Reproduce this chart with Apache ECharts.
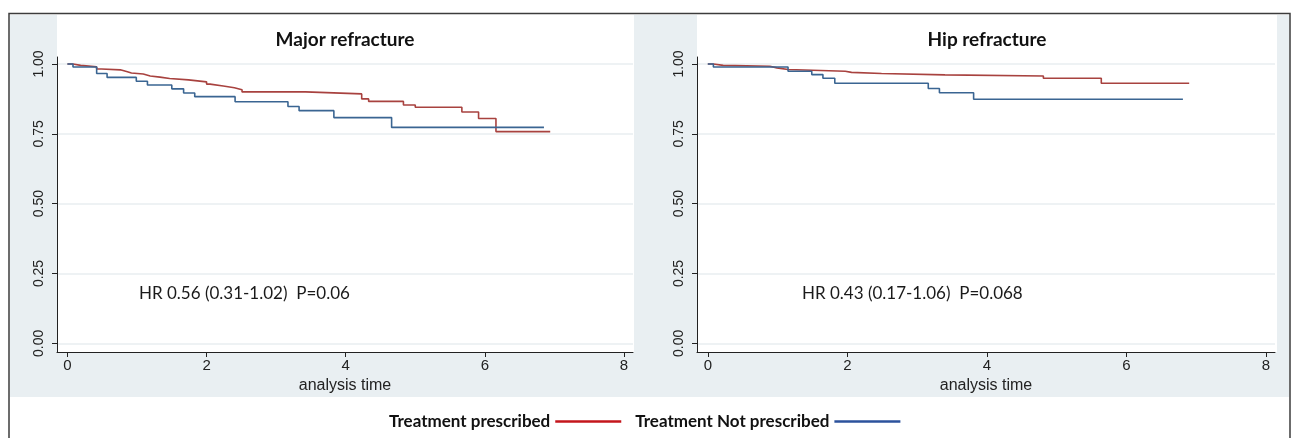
<!DOCTYPE html>
<html><head><meta charset="utf-8">
<script src="https://cdn.jsdelivr.net/npm/echarts@6/dist/echarts.min.js"></script>
<style>html,body{margin:0;padding:0;background:#fff}#c{width:1296px;height:438px}</style>
</head><body><div id="c"></div>
<script>
const panelTitles = ['Major refracture', 'Hip refracture'];
const hrTexts = ['HR 0.56 (0.31-1.02)  P=0.06', 'HR 0.43 (0.17-1.06)  P=0.068'];
const seriesNames = ['Treatment prescribed', 'Treatment Not prescribed'];
const xAxisName = 'analysis time';
const xTicks = [0, 2, 4, 6, 8];
const yTicks = [0, 0.25, 0.5, 0.75, 1];

// Major refracture – treatment prescribed
const majorRxTime = [0, 0.08, 0.19, 0.42, 0.49, 0.76, 0.85, 0.92, 1.09, 1.19, 1.33, 1.47, 1.74, 2.00, 2.05, 2.24, 2.40, 2.51, 3.42, 4.23, 4.33, 4.83, 5.00, 5.67, 5.91, 6.16, 6.94];
const majorRxSurv = [1.0, 0.995, 0.990, 0.982, 0.979, 0.973, 0.968, 0.964, 0.957, 0.953, 0.948, 0.943, 0.936, 0.928, 0.921, 0.915, 0.908, 0.900, 0.893, 0.875, 0.866, 0.853, 0.845, 0.828, 0.805, 0.758, 0.758];
// Major refracture – treatment not prescribed
const majorNoTime = [0, 0.08, 0.42, 0.57, 0.99, 1.15, 1.50, 1.67, 1.83, 2.41, 3.17, 3.33, 3.83, 4.66, 6.85];
const majorNoSurv = [1.0, 0.989, 0.966, 0.952, 0.938, 0.925, 0.911, 0.896, 0.883, 0.865, 0.848, 0.833, 0.808, 0.773, 0.773];
// Hip refracture – treatment prescribed
const hipRxTime = [0, 0.08, 0.22, 0.89, 0.99, 1.15, 1.97, 2.06, 2.49, 3.40, 4.81, 5.64, 6.90];
const hipRxSurv = [1.0, 0.995, 0.992, 0.986, 0.980, 0.974, 0.970, 0.966, 0.961, 0.957, 0.949, 0.931, 0.931];
// Hip refracture – treatment not prescribed
const hipNoTime = [0, 0.08, 1.15, 1.49, 1.65, 1.82, 3.16, 3.32, 3.81, 6.81];
const hipNoSurv = [1.0, 0.989, 0.974, 0.962, 0.949, 0.931, 0.912, 0.897, 0.874, 0.874];

const zip = (t, s) => t.map((v, i) => [v, s[i]]);

const redPlot = '#a8423f', bluePlot = '#3a6592';
const redLegend = '#c4161c', blueLegend = '#2c529c';
const axisColor = '#222';
const labelFont = 'Liberation Sans, Arial, sans-serif';
const calFont = 'Lato, sans-serif';

const grids = [
  { left: 57, top: 57, width: 576, height: 295 },
  { left: 697, top: 57, width: 578, height: 295 }
];
const xRanges = [[-0.15, 8.13], [-0.155, 8.13]];

function mkX(i) {
  return {
    type: 'value', gridIndex: i, min: xRanges[i][0], max: xRanges[i][1],
    name: xAxisName, nameLocation: 'middle', nameGap: 22,
    nameTextStyle: { fontFamily: labelFont, fontSize: 16, color: axisColor },
    axisLine: { show: true, onZero: false, lineStyle: { color: axisColor, width: 1 } },
    axisTick: { show: true, length: 5, customValues: xTicks, lineStyle: { color: axisColor } },
    axisLabel: { customValues: xTicks, margin: 6, fontFamily: labelFont, fontSize: 15, color: axisColor },
    splitLine: { show: false }
  };
}
function mkY(i) {
  return {
    type: 'value', gridIndex: i, min: -0.031, max: 1.025,
    axisLine: { show: true, onZero: false, lineStyle: { color: axisColor, width: 1 } },
    axisTick: { show: true, length: 5, customValues: yTicks, lineStyle: { color: axisColor } },
    axisLabel: { customValues: yTicks, rotate: 90, margin: 11, fontFamily: labelFont, fontSize: 14, color: axisColor,
      formatter: v => v.toFixed(2) },
    splitLine: { show: true, lineStyle: { color: '#e8eef1', width: 1.5 } }
  };
}

function mkSeries(name, t, s, i, color) {
  return {
    type: 'line', name, xAxisIndex: i, yAxisIndex: i, step: 'end',
    data: zip(t, s), showSymbol: false, symbol: 'none',
    lineStyle: { color, width: 1.6 }, itemStyle: { color }, z: 3
  };
}

const option = {
  animation: false,
  backgroundColor: '#ffffff',
  grid: grids,
  xAxis: [mkX(0), mkX(1)],
  yAxis: [mkY(0), mkY(1)],
  title: [
    { text: panelTitles[0], left: 345, top: 30, textAlign: 'center', padding: 0,
      textStyle: { fontFamily: calFont, fontWeight: 'bold', fontSize: 19, color: '#111' } },
    { text: panelTitles[1], left: 987, top: 30, textAlign: 'center', padding: 0,
      textStyle: { fontFamily: calFont, fontWeight: 'bold', fontSize: 19, color: '#111' } }
  ],
  legend: {
    data: [
      { name: seriesNames[0], itemStyle: { color: redLegend } },
      { name: seriesNames[1], itemStyle: { color: blueLegend } }
    ],
    align: 'right', icon: 'rect', itemWidth: 66, itemHeight: 2.5, itemGap: 14,
    left: 389, top: 413, padding: 0,
    textStyle: { fontFamily: calFont, fontWeight: 'bold', fontSize: 17, color: '#111' }
  },
  graphic: [
    { type: 'rect', z: -10, shape: { x: 10, y: 15, width: 1279, height: 382 }, style: { fill: '#e9eff2' } },
    { type: 'rect', z: -9, shape: { x: 57, y: 15, width: 577, height: 337 }, style: { fill: '#ffffff' } },
    { type: 'rect', z: -9, shape: { x: 697, y: 15, width: 580, height: 337 }, style: { fill: '#ffffff' } },
    { type: 'rect', z: -8, shape: { x: 9, y: 13.5, width: 1281, height: 440 }, style: { fill: 'none', stroke: '#3c3c3c', lineWidth: 1.5 } },
    { type: 'text', z: 10, x: 139, y: 294, style: { text: hrTexts[0], fontFamily: calFont, fontSize: 17, fill: '#1a1a1a', verticalAlign: 'middle' } },
    { type: 'text', z: 10, x: 802, y: 294, style: { text: hrTexts[1], fontFamily: calFont, fontSize: 17, fill: '#1a1a1a', verticalAlign: 'middle' } }
  ],
  series: [
    mkSeries(seriesNames[0], majorRxTime, majorRxSurv, 0, redPlot),
    mkSeries(seriesNames[1], majorNoTime, majorNoSurv, 0, bluePlot),
    mkSeries(seriesNames[0], hipRxTime, hipRxSurv, 1, redPlot),
    mkSeries(seriesNames[1], hipNoTime, hipNoSurv, 1, bluePlot)
  ]
};
echarts.init(document.getElementById('c'), null, { renderer: 'canvas' }).setOption(option);
</script></body></html>
